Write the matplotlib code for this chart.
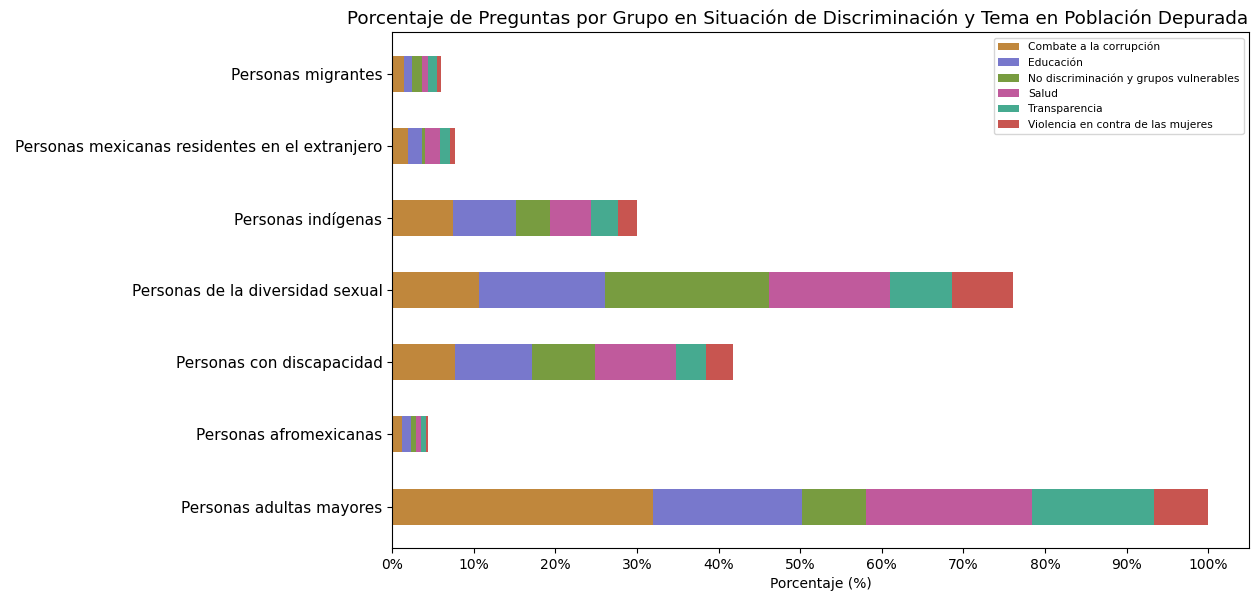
import numpy as np
import matplotlib
matplotlib.use("Agg")
import matplotlib.pyplot as plt
from matplotlib.ticker import FuncFormatter

# grupos (de abajo hacia arriba, como en pandas barh)
grupos = [
    "Personas adultas mayores",
    "Personas afromexicanas",
    "Personas con discapacidad",
    "Personas de la diversidad sexual",
    "Personas indígenas",
    "Personas mexicanas residentes en el extranjero",
    "Personas migrantes",
]

temas = [
    "Combate a la corrupción",
    "Educación",
    "No discriminación y grupos vulnerables",
    "Salud",
    "Transparencia",
    "Violencia en contra de las mujeres",
]

# porcentajes por tema (mismo orden que grupos)
combate = [32.0, 1.15, 7.72, 10.66, 7.48, 1.96, 1.47]
educacion = [18.25, 1.10, 9.44, 15.44, 7.72, 1.64, 0.98]
no_discriminacion = [7.85, 0.65, 7.74, 20.10, 4.10, 0.40, 1.19]
salud = [20.3, 0.58, 9.90, 14.80, 5.05, 1.88, 0.81]
transparencia = [15.0, 0.65, 3.60, 7.60, 3.35, 1.22, 1.06]
violencia = [6.6, 0.28, 3.40, 7.50, 2.36, 0.65, 0.53]

series = [combate, educacion, no_discriminacion, salud, transparencia, violencia]
colores = ["#c0873c", "#7878cc", "#789c40", "#c05a9c", "#46aa90", "#c85550"]

fig = plt.figure(figsize=(12.57, 5.97), dpi=100)
ax = fig.add_axes([0.312, 0.082, 0.6816, 0.864])

y = np.arange(len(grupos))
izq = np.zeros(len(grupos))
for tema, vals, c in zip(temas, series, colores):
    ax.barh(y, vals, height=0.5, left=izq, color=c, label=tema)
    izq += np.array(vals)

ax.set_yticks(y)
ax.set_yticklabels(grupos, fontsize=11)
ax.set_xticks(np.arange(0, 101, 10))
ax.xaxis.set_major_formatter(FuncFormatter(lambda v, p: f"{v:.0f}%"))
ax.tick_params(axis="x", labelsize=10)
ax.set_xlabel("Porcentaje (%)", fontsize=10)
ax.set_title("Porcentaje de Preguntas por Grupo en Situación de Discriminación y Tema en Población Depurada",
             fontsize=13.2, x=0.4726)
ax.legend(loc="upper right", fontsize=7.7)

fig.savefig("out.png", dpi=100)
